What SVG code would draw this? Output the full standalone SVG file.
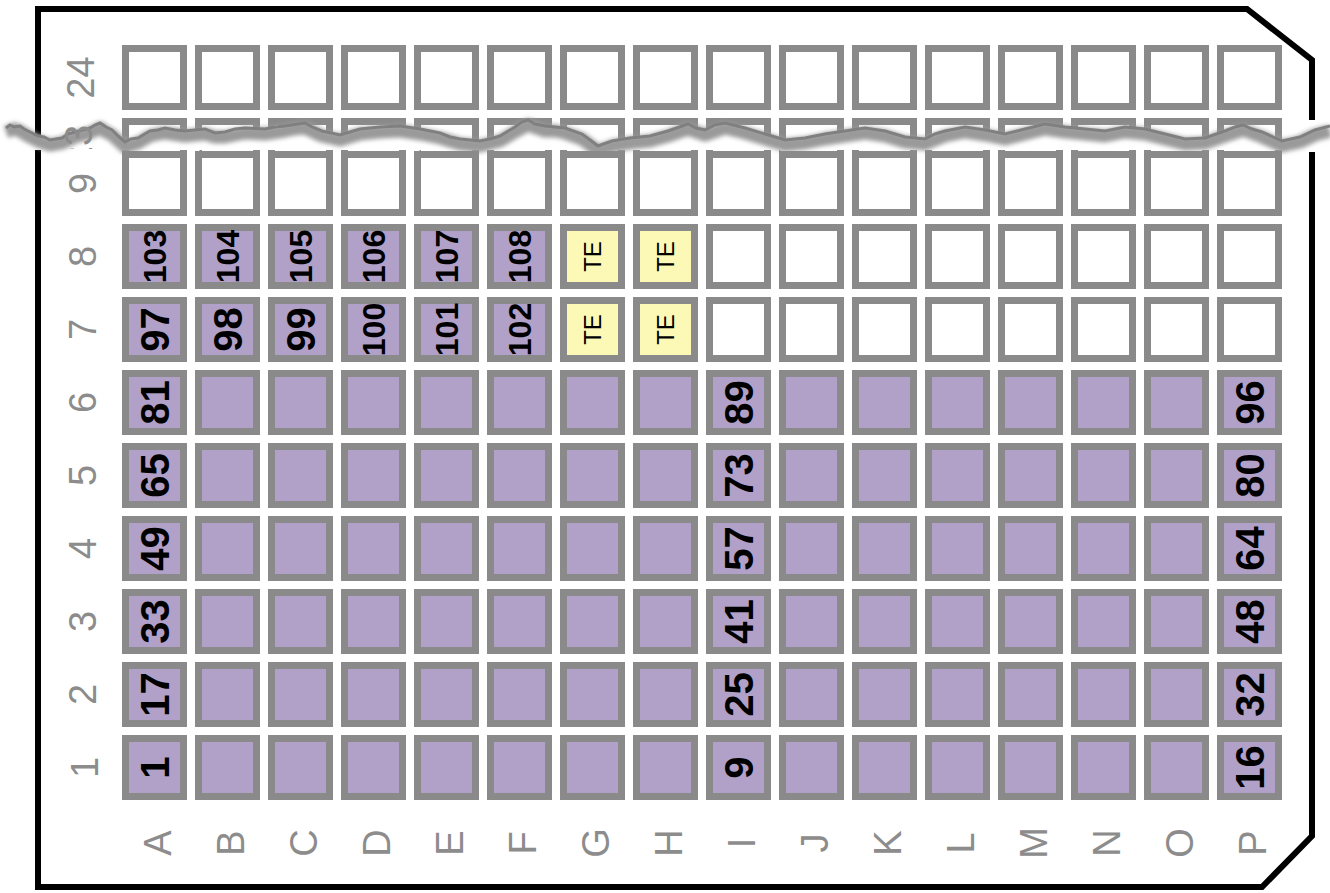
<svg xmlns="http://www.w3.org/2000/svg" xmlns:xlink="http://www.w3.org/1999/xlink" width="1330" height="893" viewBox="0 0 1330 893">
<style>
.w{fill:#ffffff;stroke:#8a8a8a;stroke-width:7}
.p{fill:#b1a1c8;stroke:#8a8a8a;stroke-width:7}
.y{fill:#fcf9b6;stroke:#8a8a8a;stroke-width:7}
.n2{font-family:"Liberation Sans",Arial,sans-serif;font-weight:bold;font-size:40px;fill:#000;text-anchor:middle}
.n3{font-family:"Liberation Sans",Arial,sans-serif;font-weight:bold;font-size:32px;fill:#000;text-anchor:middle}
.te{font-family:"Liberation Sans",Arial,sans-serif;font-size:24px;fill:#000;text-anchor:middle}
.lab{font-family:"Liberation Sans",Arial,sans-serif;font-size:38px;fill:#8c8c8c;text-anchor:middle}
.plate{fill:none;stroke:#000;stroke-width:6;stroke-linejoin:miter}
</style>
<defs>
<rect id="c" width="58" height="58"/>
<filter id="blur" x="-5%" y="-50%" width="110%" height="200%"><feGaussianBlur stdDeviation="2"/></filter>
<clipPath id="clip23"><rect x="50" y="118" width="60" height="31"/></clipPath>
</defs>

<g id="plate">
<path class="plate" d="M38,138 L38,9 L1247,9 L1312,60 L1312,120 M1312,152 L1312,836 L1262,887 L38,887 L38,150"/>
</g>

<g id="wells">
<g id="A24"><use href="#c" class="w" x="125.5" y="48.5"/></g>
<g id="B24"><use href="#c" class="w" x="198.5" y="48.5"/></g>
<g id="C24"><use href="#c" class="w" x="271.5" y="48.5"/></g>
<g id="D24"><use href="#c" class="w" x="344.5" y="48.5"/></g>
<g id="E24"><use href="#c" class="w" x="417.5" y="48.5"/></g>
<g id="F24"><use href="#c" class="w" x="490.5" y="48.5"/></g>
<g id="G24"><use href="#c" class="w" x="563.5" y="48.5"/></g>
<g id="H24"><use href="#c" class="w" x="636.5" y="48.5"/></g>
<g id="I24"><use href="#c" class="w" x="709.5" y="48.5"/></g>
<g id="J24"><use href="#c" class="w" x="782.5" y="48.5"/></g>
<g id="K24"><use href="#c" class="w" x="855.5" y="48.5"/></g>
<g id="L24"><use href="#c" class="w" x="928.5" y="48.5"/></g>
<g id="M24"><use href="#c" class="w" x="1001.5" y="48.5"/></g>
<g id="N24"><use href="#c" class="w" x="1074.5" y="48.5"/></g>
<g id="O24"><use href="#c" class="w" x="1147.5" y="48.5"/></g>
<g id="P24"><use href="#c" class="w" x="1220.5" y="48.5"/></g>
<g id="A23"><use href="#c" class="w" x="125.5" y="121.5"/></g>
<g id="B23"><use href="#c" class="w" x="198.5" y="121.5"/></g>
<g id="C23"><use href="#c" class="w" x="271.5" y="121.5"/></g>
<g id="D23"><use href="#c" class="w" x="344.5" y="121.5"/></g>
<g id="E23"><use href="#c" class="w" x="417.5" y="121.5"/></g>
<g id="F23"><use href="#c" class="w" x="490.5" y="121.5"/></g>
<g id="G23"><use href="#c" class="w" x="563.5" y="121.5"/></g>
<g id="H23"><use href="#c" class="w" x="636.5" y="121.5"/></g>
<g id="I23"><use href="#c" class="w" x="709.5" y="121.5"/></g>
<g id="J23"><use href="#c" class="w" x="782.5" y="121.5"/></g>
<g id="K23"><use href="#c" class="w" x="855.5" y="121.5"/></g>
<g id="L23"><use href="#c" class="w" x="928.5" y="121.5"/></g>
<g id="M23"><use href="#c" class="w" x="1001.5" y="121.5"/></g>
<g id="N23"><use href="#c" class="w" x="1074.5" y="121.5"/></g>
<g id="O23"><use href="#c" class="w" x="1147.5" y="121.5"/></g>
<g id="P23"><use href="#c" class="w" x="1220.5" y="121.5"/></g>
</g>

<g id="tear">
<path fill="#ffffff" d="M0,131 L8,127 L20,126 L28,131 L38,136 L50,140 L62,138 L75,132 L90,128 L100,124 L112,130 L125,142 L138,138 L150,131 L165,128 L185,131 L205,129 L225,132 L245,128 L265,129 L285,126 L305,123 L322,131 L340,135 L360,129 L380,127 L400,126 L420,129 L440,133 L460,139 L480,141 L500,136 L515,127 L528,120 L545,126 L565,128 L582,134 L598,146 L612,141 L630,138 L650,136 L668,131 L688,124 L705,130 L725,123 L745,128 L765,134 L785,140 L805,138 L825,134 L845,131 L865,128 L885,131 L905,137 L925,139 L945,131 L965,127 L985,130 L1005,134 L1025,129 L1045,124 L1065,127 L1085,129 L1105,131 L1125,127 L1145,129 L1165,134 L1185,139 L1205,138 L1225,131 L1243,125 L1262,132 L1282,141 L1300,137 L1315,130 L1330,126 L1330,150 L1250,150 L1246,156 L1240,150 L1050,150 L1046,155 L1040,150 L790,150 L786,156 L780,150 L610,150 L606,158 L600,150 L420,150 L416,155 L410,150 L200,150 L196,154 L190,150 L0,150 Z"/>
<path fill="none" stroke="#9a9a9a" stroke-width="13" stroke-linejoin="round" filter="url(#blur)" d="M6,132 L14,129 L20,131 L28,136 L38,141 L50,145 L62,143 L75,137 L90,133 L100,128 L106,132 L112,135 L125,147 L138,143 L150,136 L158,134 L165,133 L185,136 L205,134 L215,137 L225,137 L245,133 L265,134 L285,131 L295,129 L305,128 L322,136 L340,140 L360,134 L380,132 L400,131 L420,134 L440,138 L460,144 L480,146 L500,141 L515,132 L528,125 L545,131 L555,131 L565,133 L582,139 L598,151 L612,146 L630,143 L650,141 L668,136 L688,129 L705,135 L725,128 L745,133 L765,139 L785,145 L805,143 L825,139 L845,136 L865,133 L885,136 L905,142 L925,144 L945,136 L965,132 L985,135 L1005,139 L1025,134 L1045,129 L1065,132 L1085,134 L1105,136 L1125,132 L1145,134 L1165,139 L1185,144 L1205,143 L1225,136 L1243,130 L1262,137 L1282,146 L1300,142 L1315,135 L1330,131"/>
<path fill="none" stroke="#808080" stroke-width="3" stroke-linejoin="miter" d="M6,128 L10,125 L14,127 L20,126 L24,129 L28,131 L38,136 L44,137 L50,140 L62,138 L68,134 L75,132 L90,128 L95,125 L100,123 L106,127 L112,130 L118,136 L125,142 L131,139 L138,138 L150,131 L158,130 L165,128 L175,130 L185,131 L205,129 L215,133 L225,132 L235,129 L245,128 L265,129 L275,127 L285,126 L305,123 L312,127 L322,131 L340,135 L350,132 L360,129 L380,127 L400,126 L420,129 L440,133 L450,137 L460,139 L480,141 L490,139 L500,136 L515,127 L522,122 L528,120 L535,124 L545,126 L565,128 L582,134 L590,140 L598,146 L612,141 L630,138 L650,136 L668,131 L688,124 L696,128 L705,130 L715,125 L725,123 L745,128 L765,134 L785,140 L805,138 L825,134 L845,131 L865,128 L885,131 L905,137 L925,139 L935,134 L945,131 L965,127 L985,130 L1005,134 L1025,129 L1045,124 L1065,127 L1085,129 L1105,131 L1125,127 L1145,129 L1165,134 L1185,139 L1205,138 L1225,131 L1235,127 L1243,125 L1252,129 L1262,132 L1282,141 L1300,137 L1315,130 L1330,126"/>
</g>

<g id="wells-lower">
<g id="A9"><use href="#c" class="w" x="125.5" y="154.5"/></g>
<g id="B9"><use href="#c" class="w" x="198.5" y="154.5"/></g>
<g id="C9"><use href="#c" class="w" x="271.5" y="154.5"/></g>
<g id="D9"><use href="#c" class="w" x="344.5" y="154.5"/></g>
<g id="E9"><use href="#c" class="w" x="417.5" y="154.5"/></g>
<g id="F9"><use href="#c" class="w" x="490.5" y="154.5"/></g>
<g id="G9"><use href="#c" class="w" x="563.5" y="154.5"/></g>
<g id="H9"><use href="#c" class="w" x="636.5" y="154.5"/></g>
<g id="I9"><use href="#c" class="w" x="709.5" y="154.5"/></g>
<g id="J9"><use href="#c" class="w" x="782.5" y="154.5"/></g>
<g id="K9"><use href="#c" class="w" x="855.5" y="154.5"/></g>
<g id="L9"><use href="#c" class="w" x="928.5" y="154.5"/></g>
<g id="M9"><use href="#c" class="w" x="1001.5" y="154.5"/></g>
<g id="N9"><use href="#c" class="w" x="1074.5" y="154.5"/></g>
<g id="O9"><use href="#c" class="w" x="1147.5" y="154.5"/></g>
<g id="P9"><use href="#c" class="w" x="1220.5" y="154.5"/></g>
<g id="A8"><use href="#c" class="p" x="125.5" y="227.5"/><text class="n3" transform="translate(154.5 256.5) rotate(-90)" y="11.5">103</text></g>
<g id="B8"><use href="#c" class="p" x="198.5" y="227.5"/><text class="n3" transform="translate(227.5 256.5) rotate(-90)" y="11.5">104</text></g>
<g id="C8"><use href="#c" class="p" x="271.5" y="227.5"/><text class="n3" transform="translate(300.5 256.5) rotate(-90)" y="11.5">105</text></g>
<g id="D8"><use href="#c" class="p" x="344.5" y="227.5"/><text class="n3" transform="translate(373.5 256.5) rotate(-90)" y="11.5">106</text></g>
<g id="E8"><use href="#c" class="p" x="417.5" y="227.5"/><text class="n3" transform="translate(446.5 256.5) rotate(-90)" y="11.5">107</text></g>
<g id="F8"><use href="#c" class="p" x="490.5" y="227.5"/><text class="n3" transform="translate(519.5 256.5) rotate(-90)" y="11.5">108</text></g>
<g id="G8"><use href="#c" class="y" x="563.5" y="227.5"/><text class="te" transform="translate(592.5 256.5) rotate(-90)" y="8.6">TE</text></g>
<g id="H8"><use href="#c" class="y" x="636.5" y="227.5"/><text class="te" transform="translate(665.5 256.5) rotate(-90)" y="8.6">TE</text></g>
<g id="I8"><use href="#c" class="w" x="709.5" y="227.5"/></g>
<g id="J8"><use href="#c" class="w" x="782.5" y="227.5"/></g>
<g id="K8"><use href="#c" class="w" x="855.5" y="227.5"/></g>
<g id="L8"><use href="#c" class="w" x="928.5" y="227.5"/></g>
<g id="M8"><use href="#c" class="w" x="1001.5" y="227.5"/></g>
<g id="N8"><use href="#c" class="w" x="1074.5" y="227.5"/></g>
<g id="O8"><use href="#c" class="w" x="1147.5" y="227.5"/></g>
<g id="P8"><use href="#c" class="w" x="1220.5" y="227.5"/></g>
<g id="A7"><use href="#c" class="p" x="125.5" y="300.5"/><text class="n2" transform="translate(154.5 329.5) rotate(-90)" y="14.4">97</text></g>
<g id="B7"><use href="#c" class="p" x="198.5" y="300.5"/><text class="n2" transform="translate(227.5 329.5) rotate(-90)" y="14.4">98</text></g>
<g id="C7"><use href="#c" class="p" x="271.5" y="300.5"/><text class="n2" transform="translate(300.5 329.5) rotate(-90)" y="14.4">99</text></g>
<g id="D7"><use href="#c" class="p" x="344.5" y="300.5"/><text class="n3" transform="translate(373.5 329.5) rotate(-90)" y="11.5">100</text></g>
<g id="E7"><use href="#c" class="p" x="417.5" y="300.5"/><text class="n3" transform="translate(446.5 329.5) rotate(-90)" y="11.5">101</text></g>
<g id="F7"><use href="#c" class="p" x="490.5" y="300.5"/><text class="n3" transform="translate(519.5 329.5) rotate(-90)" y="11.5">102</text></g>
<g id="G7"><use href="#c" class="y" x="563.5" y="300.5"/><text class="te" transform="translate(592.5 329.5) rotate(-90)" y="8.6">TE</text></g>
<g id="H7"><use href="#c" class="y" x="636.5" y="300.5"/><text class="te" transform="translate(665.5 329.5) rotate(-90)" y="8.6">TE</text></g>
<g id="I7"><use href="#c" class="w" x="709.5" y="300.5"/></g>
<g id="J7"><use href="#c" class="w" x="782.5" y="300.5"/></g>
<g id="K7"><use href="#c" class="w" x="855.5" y="300.5"/></g>
<g id="L7"><use href="#c" class="w" x="928.5" y="300.5"/></g>
<g id="M7"><use href="#c" class="w" x="1001.5" y="300.5"/></g>
<g id="N7"><use href="#c" class="w" x="1074.5" y="300.5"/></g>
<g id="O7"><use href="#c" class="w" x="1147.5" y="300.5"/></g>
<g id="P7"><use href="#c" class="w" x="1220.5" y="300.5"/></g>
<g id="A6"><use href="#c" class="p" x="125.5" y="373.5"/><text class="n2" transform="translate(154.5 402.5) rotate(-90)" y="14.4">81</text></g>
<g id="B6"><use href="#c" class="p" x="198.5" y="373.5"/></g>
<g id="C6"><use href="#c" class="p" x="271.5" y="373.5"/></g>
<g id="D6"><use href="#c" class="p" x="344.5" y="373.5"/></g>
<g id="E6"><use href="#c" class="p" x="417.5" y="373.5"/></g>
<g id="F6"><use href="#c" class="p" x="490.5" y="373.5"/></g>
<g id="G6"><use href="#c" class="p" x="563.5" y="373.5"/></g>
<g id="H6"><use href="#c" class="p" x="636.5" y="373.5"/></g>
<g id="I6"><use href="#c" class="p" x="709.5" y="373.5"/><text class="n2" transform="translate(738.5 402.5) rotate(-90)" y="14.4">89</text></g>
<g id="J6"><use href="#c" class="p" x="782.5" y="373.5"/></g>
<g id="K6"><use href="#c" class="p" x="855.5" y="373.5"/></g>
<g id="L6"><use href="#c" class="p" x="928.5" y="373.5"/></g>
<g id="M6"><use href="#c" class="p" x="1001.5" y="373.5"/></g>
<g id="N6"><use href="#c" class="p" x="1074.5" y="373.5"/></g>
<g id="O6"><use href="#c" class="p" x="1147.5" y="373.5"/></g>
<g id="P6"><use href="#c" class="p" x="1220.5" y="373.5"/><text class="n2" transform="translate(1249.5 402.5) rotate(-90)" y="14.4">96</text></g>
<g id="A5"><use href="#c" class="p" x="125.5" y="446.5"/><text class="n2" transform="translate(154.5 475.5) rotate(-90)" y="14.4">65</text></g>
<g id="B5"><use href="#c" class="p" x="198.5" y="446.5"/></g>
<g id="C5"><use href="#c" class="p" x="271.5" y="446.5"/></g>
<g id="D5"><use href="#c" class="p" x="344.5" y="446.5"/></g>
<g id="E5"><use href="#c" class="p" x="417.5" y="446.5"/></g>
<g id="F5"><use href="#c" class="p" x="490.5" y="446.5"/></g>
<g id="G5"><use href="#c" class="p" x="563.5" y="446.5"/></g>
<g id="H5"><use href="#c" class="p" x="636.5" y="446.5"/></g>
<g id="I5"><use href="#c" class="p" x="709.5" y="446.5"/><text class="n2" transform="translate(738.5 475.5) rotate(-90)" y="14.4">73</text></g>
<g id="J5"><use href="#c" class="p" x="782.5" y="446.5"/></g>
<g id="K5"><use href="#c" class="p" x="855.5" y="446.5"/></g>
<g id="L5"><use href="#c" class="p" x="928.5" y="446.5"/></g>
<g id="M5"><use href="#c" class="p" x="1001.5" y="446.5"/></g>
<g id="N5"><use href="#c" class="p" x="1074.5" y="446.5"/></g>
<g id="O5"><use href="#c" class="p" x="1147.5" y="446.5"/></g>
<g id="P5"><use href="#c" class="p" x="1220.5" y="446.5"/><text class="n2" transform="translate(1249.5 475.5) rotate(-90)" y="14.4">80</text></g>
<g id="A4"><use href="#c" class="p" x="125.5" y="519.5"/><text class="n2" transform="translate(154.5 548.5) rotate(-90)" y="14.4">49</text></g>
<g id="B4"><use href="#c" class="p" x="198.5" y="519.5"/></g>
<g id="C4"><use href="#c" class="p" x="271.5" y="519.5"/></g>
<g id="D4"><use href="#c" class="p" x="344.5" y="519.5"/></g>
<g id="E4"><use href="#c" class="p" x="417.5" y="519.5"/></g>
<g id="F4"><use href="#c" class="p" x="490.5" y="519.5"/></g>
<g id="G4"><use href="#c" class="p" x="563.5" y="519.5"/></g>
<g id="H4"><use href="#c" class="p" x="636.5" y="519.5"/></g>
<g id="I4"><use href="#c" class="p" x="709.5" y="519.5"/><text class="n2" transform="translate(738.5 548.5) rotate(-90)" y="14.4">57</text></g>
<g id="J4"><use href="#c" class="p" x="782.5" y="519.5"/></g>
<g id="K4"><use href="#c" class="p" x="855.5" y="519.5"/></g>
<g id="L4"><use href="#c" class="p" x="928.5" y="519.5"/></g>
<g id="M4"><use href="#c" class="p" x="1001.5" y="519.5"/></g>
<g id="N4"><use href="#c" class="p" x="1074.5" y="519.5"/></g>
<g id="O4"><use href="#c" class="p" x="1147.5" y="519.5"/></g>
<g id="P4"><use href="#c" class="p" x="1220.5" y="519.5"/><text class="n2" transform="translate(1249.5 548.5) rotate(-90)" y="14.4">64</text></g>
<g id="A3"><use href="#c" class="p" x="125.5" y="592.5"/><text class="n2" transform="translate(154.5 621.5) rotate(-90)" y="14.4">33</text></g>
<g id="B3"><use href="#c" class="p" x="198.5" y="592.5"/></g>
<g id="C3"><use href="#c" class="p" x="271.5" y="592.5"/></g>
<g id="D3"><use href="#c" class="p" x="344.5" y="592.5"/></g>
<g id="E3"><use href="#c" class="p" x="417.5" y="592.5"/></g>
<g id="F3"><use href="#c" class="p" x="490.5" y="592.5"/></g>
<g id="G3"><use href="#c" class="p" x="563.5" y="592.5"/></g>
<g id="H3"><use href="#c" class="p" x="636.5" y="592.5"/></g>
<g id="I3"><use href="#c" class="p" x="709.5" y="592.5"/><text class="n2" transform="translate(738.5 621.5) rotate(-90)" y="14.4">41</text></g>
<g id="J3"><use href="#c" class="p" x="782.5" y="592.5"/></g>
<g id="K3"><use href="#c" class="p" x="855.5" y="592.5"/></g>
<g id="L3"><use href="#c" class="p" x="928.5" y="592.5"/></g>
<g id="M3"><use href="#c" class="p" x="1001.5" y="592.5"/></g>
<g id="N3"><use href="#c" class="p" x="1074.5" y="592.5"/></g>
<g id="O3"><use href="#c" class="p" x="1147.5" y="592.5"/></g>
<g id="P3"><use href="#c" class="p" x="1220.5" y="592.5"/><text class="n2" transform="translate(1249.5 621.5) rotate(-90)" y="14.4">48</text></g>
<g id="A2"><use href="#c" class="p" x="125.5" y="665.5"/><text class="n2" transform="translate(154.5 694.5) rotate(-90)" y="14.4">17</text></g>
<g id="B2"><use href="#c" class="p" x="198.5" y="665.5"/></g>
<g id="C2"><use href="#c" class="p" x="271.5" y="665.5"/></g>
<g id="D2"><use href="#c" class="p" x="344.5" y="665.5"/></g>
<g id="E2"><use href="#c" class="p" x="417.5" y="665.5"/></g>
<g id="F2"><use href="#c" class="p" x="490.5" y="665.5"/></g>
<g id="G2"><use href="#c" class="p" x="563.5" y="665.5"/></g>
<g id="H2"><use href="#c" class="p" x="636.5" y="665.5"/></g>
<g id="I2"><use href="#c" class="p" x="709.5" y="665.5"/><text class="n2" transform="translate(738.5 694.5) rotate(-90)" y="14.4">25</text></g>
<g id="J2"><use href="#c" class="p" x="782.5" y="665.5"/></g>
<g id="K2"><use href="#c" class="p" x="855.5" y="665.5"/></g>
<g id="L2"><use href="#c" class="p" x="928.5" y="665.5"/></g>
<g id="M2"><use href="#c" class="p" x="1001.5" y="665.5"/></g>
<g id="N2"><use href="#c" class="p" x="1074.5" y="665.5"/></g>
<g id="O2"><use href="#c" class="p" x="1147.5" y="665.5"/></g>
<g id="P2"><use href="#c" class="p" x="1220.5" y="665.5"/><text class="n2" transform="translate(1249.5 694.5) rotate(-90)" y="14.4">32</text></g>
<g id="A1"><use href="#c" class="p" x="125.5" y="738.5"/><text class="n2" transform="translate(154.5 767.5) rotate(-90)" y="14.4">1</text></g>
<g id="B1"><use href="#c" class="p" x="198.5" y="738.5"/></g>
<g id="C1"><use href="#c" class="p" x="271.5" y="738.5"/></g>
<g id="D1"><use href="#c" class="p" x="344.5" y="738.5"/></g>
<g id="E1"><use href="#c" class="p" x="417.5" y="738.5"/></g>
<g id="F1"><use href="#c" class="p" x="490.5" y="738.5"/></g>
<g id="G1"><use href="#c" class="p" x="563.5" y="738.5"/></g>
<g id="H1"><use href="#c" class="p" x="636.5" y="738.5"/></g>
<g id="I1"><use href="#c" class="p" x="709.5" y="738.5"/><text class="n2" transform="translate(738.5 767.5) rotate(-90)" y="14.4">9</text></g>
<g id="J1"><use href="#c" class="p" x="782.5" y="738.5"/></g>
<g id="K1"><use href="#c" class="p" x="855.5" y="738.5"/></g>
<g id="L1"><use href="#c" class="p" x="928.5" y="738.5"/></g>
<g id="M1"><use href="#c" class="p" x="1001.5" y="738.5"/></g>
<g id="N1"><use href="#c" class="p" x="1074.5" y="738.5"/></g>
<g id="O1"><use href="#c" class="p" x="1147.5" y="738.5"/></g>
<g id="P1"><use href="#c" class="p" x="1220.5" y="738.5"/><text class="n2" transform="translate(1249.5 767.5) rotate(-90)" y="14.4">16</text></g>
</g>

<g id="row-labels">
<text class="lab" transform="translate(80 77.5) rotate(-90)" y="13.7">24</text>
<g clip-path="url(#clip23)"><text class="lab" transform="translate(78 146) rotate(-90)" y="13.7">23</text></g>
<text class="lab" transform="translate(82 183.5) rotate(-90)" y="13.7">9</text>
<text class="lab" transform="translate(82 256.5) rotate(-90)" y="13.7">8</text>
<text class="lab" transform="translate(82 329.5) rotate(-90)" y="13.7">7</text>
<text class="lab" transform="translate(82 402.5) rotate(-90)" y="13.7">6</text>
<text class="lab" transform="translate(82 475.5) rotate(-90)" y="13.7">5</text>
<text class="lab" transform="translate(82 548.5) rotate(-90)" y="13.7">4</text>
<text class="lab" transform="translate(82 621.5) rotate(-90)" y="13.7">3</text>
<text class="lab" transform="translate(82 694.5) rotate(-90)" y="13.7">2</text>
<text class="lab" transform="translate(84 767.5) rotate(-90)" y="13.7">1</text>
</g>

<g id="col-labels">
<text class="lab" transform="translate(157.5 843) rotate(-90)" y="13.7">A</text>
<text class="lab" transform="translate(230.5 843) rotate(-90)" y="13.7">B</text>
<text class="lab" transform="translate(303.5 843) rotate(-90)" y="13.7">C</text>
<text class="lab" transform="translate(376.5 843) rotate(-90)" y="13.7">D</text>
<text class="lab" transform="translate(449.5 843) rotate(-90)" y="13.7">E</text>
<text class="lab" transform="translate(522.5 843) rotate(-90)" y="13.7">F</text>
<text class="lab" transform="translate(595.5 843) rotate(-90)" y="13.7">G</text>
<text class="lab" transform="translate(668.5 843) rotate(-90)" y="13.7">H</text>
<text class="lab" transform="translate(741.5 843) rotate(-90)" y="13.7">I</text>
<text class="lab" transform="translate(814.5 843) rotate(-90)" y="13.7">J</text>
<text class="lab" transform="translate(887.5 843) rotate(-90)" y="13.7">K</text>
<text class="lab" transform="translate(960.5 843) rotate(-90)" y="13.7">L</text>
<text class="lab" transform="translate(1033.5 843) rotate(-90)" y="13.7">M</text>
<text class="lab" transform="translate(1106.5 843) rotate(-90)" y="13.7">N</text>
<text class="lab" transform="translate(1179.5 843) rotate(-90)" y="13.7">O</text>
<text class="lab" transform="translate(1252.5 843) rotate(-90)" y="13.7">P</text>
</g>
</svg>
